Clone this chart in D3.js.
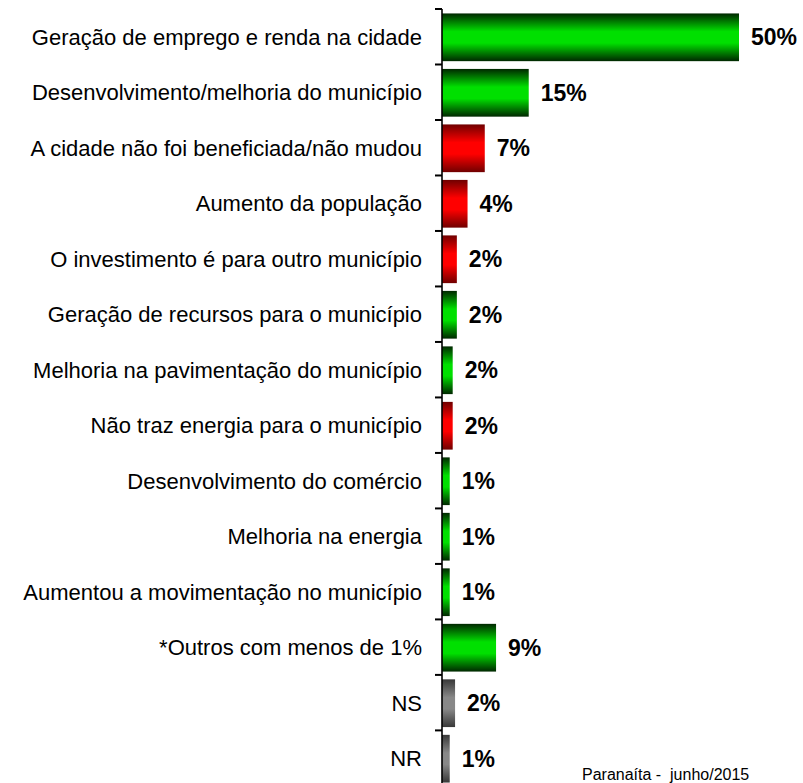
<!DOCTYPE html>
<html>
<head>
<meta charset="utf-8">
<script src="https://cdn.jsdelivr.net/npm/d3@7"></script>
<style>
  html, body { margin: 0; padding: 0; background: #fff; }
  svg { display: block; }
</style>
</head>
<body>
<svg id="chart" width="803" height="783"></svg>
<script>
const categories = [
  "Geração de emprego e renda na cidade",
  "Desenvolvimento/melhoria do município",
  "A cidade não foi beneficiada/não mudou",
  "Aumento da população",
  "O investimento é para outro município",
  "Geração de recursos para o município",
  "Melhoria na pavimentação do município",
  "Não traz energia para o município",
  "Desenvolvimento do comércio",
  "Melhoria na energia",
  "Aumentou a movimentação no município",
  "*Outros com menos de 1%",
  "NS",
  "NR"
];
const values = [50, 14.6, 7.2, 4.3, 2.5, 2.5, 1.8, 1.8, 1.3, 1.3, 1.3, 9.1, 2.2, 1.3];
const valueLabels = ["50%", "15%", "7%", "4%", "2%", "2%", "2%", "2%", "1%", "1%", "1%", "9%", "2%", "1%"];
const tones = ["pos", "pos", "neg", "neg", "neg", "pos", "pos", "neg", "pos", "pos", "pos", "pos", "na", "na"];
const footer = "Paranaíta -  junho/2015";

const svg = d3.select("#chart");
const axisX = 442;

const x = d3.scaleLinear().domain([0, 50]).range([axisX, 739]);
const y = d3.scaleBand().domain(categories).range([9, 787]).paddingInner(0.14).paddingOuter(0.08);

const defs = svg.append("defs");
const palettes = {
  pos: { dark: "#002800", bright: "#00e000" },
  neg: { dark: "#700000", bright: "#ff0000" },
  na:  { dark: "#383838", bright: "#888888" }
};
Object.entries(palettes).forEach(([k, c]) => {
  const g = defs.append("linearGradient").attr("id", "grad-" + k)
    .attr("x1", 0).attr("y1", 0).attr("x2", 0).attr("y2", 1);
  g.append("stop").attr("offset", "0%").attr("stop-color", c.dark);
  g.append("stop").attr("offset", "38%").attr("stop-color", c.bright);
  g.append("stop").attr("offset", "62%").attr("stop-color", c.bright);
  g.append("stop").attr("offset", "100%").attr("stop-color", c.dark);
});

// bars
svg.append("g").selectAll("rect")
  .data(values)
  .join("rect")
  .attr("x", x(0))
  .attr("y", (d, i) => y(categories[i]))
  .attr("width", d => x(d) - x(0))
  .attr("height", y.bandwidth())
  .attr("fill", (d, i) => `url(#grad-${tones[i]})`);

// axis line and ticks at band boundaries
const step = y.step();
const boundaries = d3.range(categories.length + 1).map(i => y.range()[0] + i * step);
const ax = svg.append("g");
ax.append("line")
  .attr("x1", axisX).attr("x2", axisX)
  .attr("y1", boundaries[0]).attr("y2", 783)
  .attr("stroke", "#000").attr("stroke-width", 1.6);
ax.selectAll("line.tick")
  .data(boundaries)
  .join("line").attr("class", "tick")
  .attr("x1", axisX - 7).attr("x2", axisX)
  .attr("y1", d => d).attr("y2", d => d)
  .attr("stroke", "#000").attr("stroke-width", 2);

// category labels
svg.append("g").selectAll("text")
  .data(categories)
  .join("text")
  .attr("x", 422)
  .attr("y", d => y(d) + y.bandwidth() / 2)
  .attr("dy", "0.35em")
  .attr("text-anchor", "end")
  .attr("font-family", "Liberation Sans, Arial, sans-serif")
  .attr("font-size", 22)
  .attr("fill", "#000")
  .text(d => d);

// value labels
svg.append("g").selectAll("text")
  .data(values)
  .join("text")
  .attr("x", d => x(d) + 12)
  .attr("y", (d, i) => y(categories[i]) + y.bandwidth() / 2)
  .attr("dy", "0.35em")
  .attr("font-family", "Liberation Sans, Arial, sans-serif")
  .attr("font-weight", "bold")
  .attr("font-size", 23)
  .attr("fill", "#000")
  .text((d, i) => valueLabels[i]);

svg.append("text")
  .attr("x", 582)
  .attr("y", 780)
  .attr("font-family", "Liberation Sans, Arial, sans-serif")
  .attr("font-size", 16)
  .attr("fill", "#000")
  .style("white-space", "pre")
  .text(footer);
</script>
</body>
</html>
